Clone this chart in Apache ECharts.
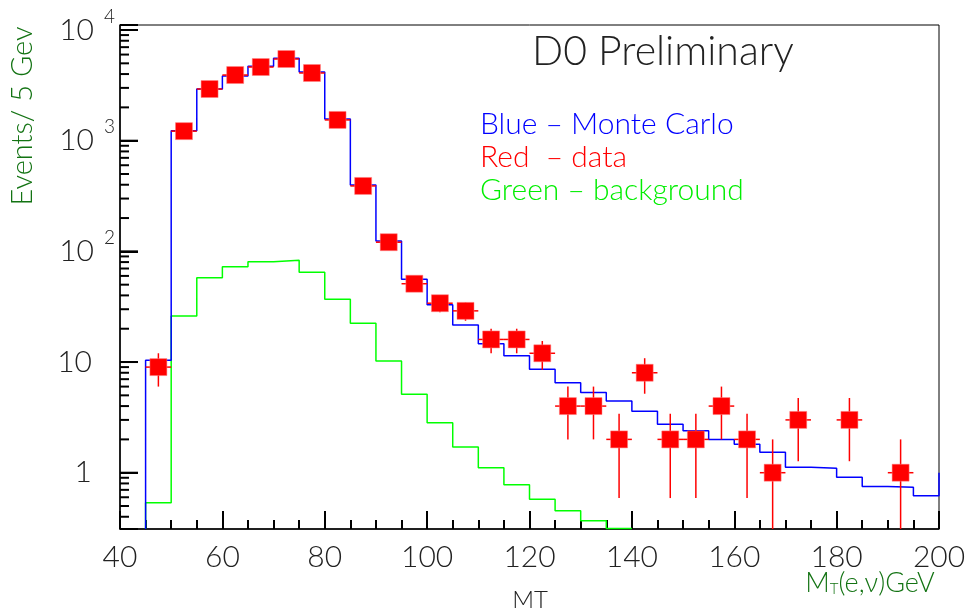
<!DOCTYPE html>
<html>
<head>
<meta charset="utf-8">
<script src="https://cdn.jsdelivr.net/npm/echarts@6/dist/echarts.min.js"></script>
<style>
  html, body { margin: 0; padding: 0; background: #fff; }
  #mtChart { width: 972px; height: 615px; }
</style>
</head>
<body>
<div id="mtChart"></div>
<script>
// low edges of the 5 GeV bins (blue = Monte Carlo)
const mcEdges = [45, 50, 55, 60, 65, 70, 75, 80, 85, 90, 95, 100, 105, 110, 115, 120, 125, 130, 135, 140,
  145, 150, 155, 160, 165, 170, 175, 180, 185, 190, 195, 200]
const mcValues = [10.4, 1230, 2930, 3840, 4700, 5560, 4180, 1570, 398, 124, 56, 33, 21.6, 14.6, 11.4, 8.6, 6.5, 5.3, 4.45, 3.6,
  2.74, 2.4, 2.0, 1.81, 1.53, 1.12, 1.10, 0.91, 0.75, 0.74, 0.62, 1.0]
// green = background
const bgEdges = [45, 50, 55, 60, 65, 70, 75, 80, 85, 90, 95, 100, 105, 110, 115, 120, 125, 130, 135]
const bgValues = [0.536, 26.1, 57.8, 72.6, 80.7, 83, 64.7, 36.9, 22.4, 10.2, 5.11, 2.83, 1.71, 1.11, 0.78, 0.575, 0.454, 0.368, 0.314]
// red = data (bin centres, counts, errors)
const dataX = [47.5, 52.5, 57.5, 62.5, 67.5, 72.5, 77.5, 82.5, 87.5, 92.5, 97.5, 102.5, 107.5, 112.5, 117.5, 122.5,
  127.5, 132.5, 137.5, 142.5, 147.5, 152.5, 157.5, 162.5, 167.5, 172.5, 182.5, 192.5]
const dataN = [9, 1220, 2930, 3920, 4630, 5470, 4090, 1540, 390, 121, 51, 34, 29, 16, 16, 12,
  4, 4, 2, 8, 2, 2, 4, 2, 1, 3, 3, 1]
const dataErr = [3, 35, 54, 63, 68, 74, 64, 39, 20, 11, 7.1, 5.8, 5.4, 4, 4, 3.5,
  2, 2, 1.41, 2.83, 1.41, 1.41, 2, 1.41, 1, 1.73, 1.73, 1]
const xTicks = [40, 60, 80, 100, 120, 140, 160, 180, 200]
const yMajorTicks = [1, 10, 100, 1000, 10000]
const yMinorTicks = [0.4, 0.5, 0.6, 0.7, 0.8, 0.9, 2, 3, 4, 5, 6, 7, 8, 9, 20, 30, 40, 50, 60, 70, 80, 90,
  200, 300, 400, 500, 600, 700, 800, 900, 2000, 3000, 4000, 5000, 6000, 7000, 8000, 9000]

const yMin = 0.31
const yMax = 11100
const font = 'Lato, "Open Sans", sans-serif'
const darkGreen = '#137313'
const tickColor = '#000'

// histogram outline as step line
function stepData (edges, values, lastEdge, lastValue) {
  let pts = [[edges[0], yMin]]
  edges.forEach((e, i) => pts.push([e, values[i]]))
  if (lastEdge !== undefined) pts.push([lastEdge, lastValue])
  return pts
}

function txt (x, y, text, size, color, extra) {
  return { type: 'text', x: x, y: y,
    style: Object.assign({ text: text, fontSize: size, fontFamily: font, fontWeight: 300, fill: color, verticalAlign: 'middle' }, extra || {}) }
}

let texts = [
  txt(532, 52, 'D0 Preliminary', 41, '#222'),
  txt(480, 124, 'Blue – Monte Carlo', 30, '#0000ff'),
  txt(480, 157, 'Red  – data', 30, '#ff0000'),
  txt(480, 190, 'Green – background', 30, '#00ee00'),
  Object.assign(txt(23, 116, 'Events/ 5 Gev', 29, darkGreen, { align: 'center' }), { rotation: Math.PI / 2 }),
  txt(530, 600, 'MT', 24, '#222', { align: 'center' }),
  {
    type: 'text', x: 870, y: 583,
    style: {
      text: '{m|M}{t|T}{m|(e,ν)GeV}',
      align: 'center',
      verticalAlign: 'middle',
      rich: {
        m: { fontSize: 27, fontFamily: font, fontWeight: 300, fill: darkGreen, lineHeight: 28 },
        t: { fontSize: 15, fontFamily: font, fontWeight: 300, fill: darkGreen, verticalAlign: 'bottom', lineHeight: 16 }
      }
    }
  }
]

// y ticks: [x, value, length]
let yTickData = yMajorTicks.map(v => [xTicks[0], v, 18]).concat(yMinorTicks.map(v => [xTicks[0], v, 9]))

let myChart = echarts.init(document.getElementById('mtChart'))
myChart.setOption({
  animation: false,
  grid: {
    left: 120,
    right: 33,
    top: 25,
    bottom: 86,
    show: true,
    borderColor: '#000',
    borderWidth: 1
  },
  xAxis: {
    type: 'value',
    min: xTicks[0],
    max: xTicks[xTicks.length - 1],
    interval: 20,
    axisLine: { lineStyle: { color: '#000', width: 1.5 } },
    axisTick: { show: true, inside: true, length: 18, lineStyle: { color: tickColor, width: 2 } },
    minorTick: { show: true, splitNumber: 4, length: 9, lineStyle: { color: tickColor, width: 2 } },
    axisLabel: { fontSize: 30, color: '#222', margin: 13, fontFamily: font, fontWeight: 300 },
    splitLine: { show: false }
  },
  yAxis: {
    type: 'log',
    min: yMin,
    max: yMax,
    axisLine: { lineStyle: { color: '#000', width: 1.5 } },
    axisTick: { show: true, inside: true, length: 18, lineStyle: { color: tickColor, width: 2 } },
    splitLine: { show: false },
    axisLabel: {
      margin: 5,
      color: '#222',
      fontFamily: font,
      fontWeight: 300,
      formatter: function (v) {
        let lg = Math.log10(v)
        let e = Math.round(lg)
        if (Math.abs(lg - e) > 1e-6 || e < 0) return ''
        if (e >= 2) return '{b|10}{s|' + e + '}'
        return '{p|' + Math.round(v) + '}'
      },
      rich: {
        b: { fontSize: 30, lineHeight: 46, color: '#222', fontFamily: font, fontWeight: 300 },
        s: { fontSize: 19, lineHeight: 19, verticalAlign: 'top', padding: [0, 0, 0, 10], color: '#222', fontFamily: font, fontWeight: 300 },
        p: { fontSize: 30, padding: [0, 23, 0, 0], color: '#222', fontFamily: font, fontWeight: 300 }
      }
    }
  },
  graphic: texts,
  series: [
    {
      name: 'background',
      type: 'line',
      step: 'end',
      symbol: 'none',
      data: stepData(bgEdges, bgValues, 140, yMin),
      lineStyle: { color: '#00ff00', width: 1.5 },
      z: 2
    },
    {
      name: 'Monte Carlo',
      type: 'line',
      step: 'end',
      symbol: 'none',
      data: stepData(mcEdges.slice(0, -1), mcValues.slice(0, -1), mcEdges[mcEdges.length - 1], mcValues[mcValues.length - 1]),
      lineStyle: { color: '#0000ff', width: 1.5 },
      z: 3
    },
    {
      // ticks of the log axis drawn as thin filled bars
      type: 'custom',
      silent: true,
      clip: false,
      data: yTickData,
      renderItem: function (params, api) {
        let p = api.coord([api.value(0), api.value(1)])
        let len = api.value(2)
        return {
          type: 'rect',
          shape: { x: p[0], y: p[1] - 1, width: len, height: 2 },
          style: { fill: tickColor }
        }
      },
      encode: { x: 0, y: 1 },
      z: 8
    },
    {
      // error bars of the data
      type: 'custom',
      silent: true,
      data: dataX.map((x, i) => [x, dataN[i], dataErr[i]]),
      renderItem: function (params, api) {
        let x = api.value(0)
        let n = api.value(1)
        let err = api.value(2)
        let lo = Math.max(n - err, yMin)
        let top = api.coord([x, n + err])
        let bot = api.coord([x, lo])
        let l = api.coord([x - 2.5, n])
        let r = api.coord([x + 2.5, n])
        let st = { stroke: '#ff0000', lineWidth: 1.5 }
        return {
          type: 'group',
          children: [
            { type: 'line', shape: { x1: top[0], y1: top[1], x2: bot[0], y2: bot[1] }, style: st },
            { type: 'line', shape: { x1: l[0], y1: l[1], x2: r[0], y2: r[1] }, style: st }
          ]
        }
      },
      encode: { x: 0, y: 1 },
      z: 5
    },
    {
      name: 'data',
      type: 'scatter',
      symbol: 'rect',
      symbolSize: 17,
      data: dataX.map((x, i) => [x, dataN[i]]),
      itemStyle: { color: '#ff0000', opacity: 1, borderColor: '#ff8080', borderWidth: 0.5 },
      z: 6
    }
  ]
})
</script>
</body>
</html>
